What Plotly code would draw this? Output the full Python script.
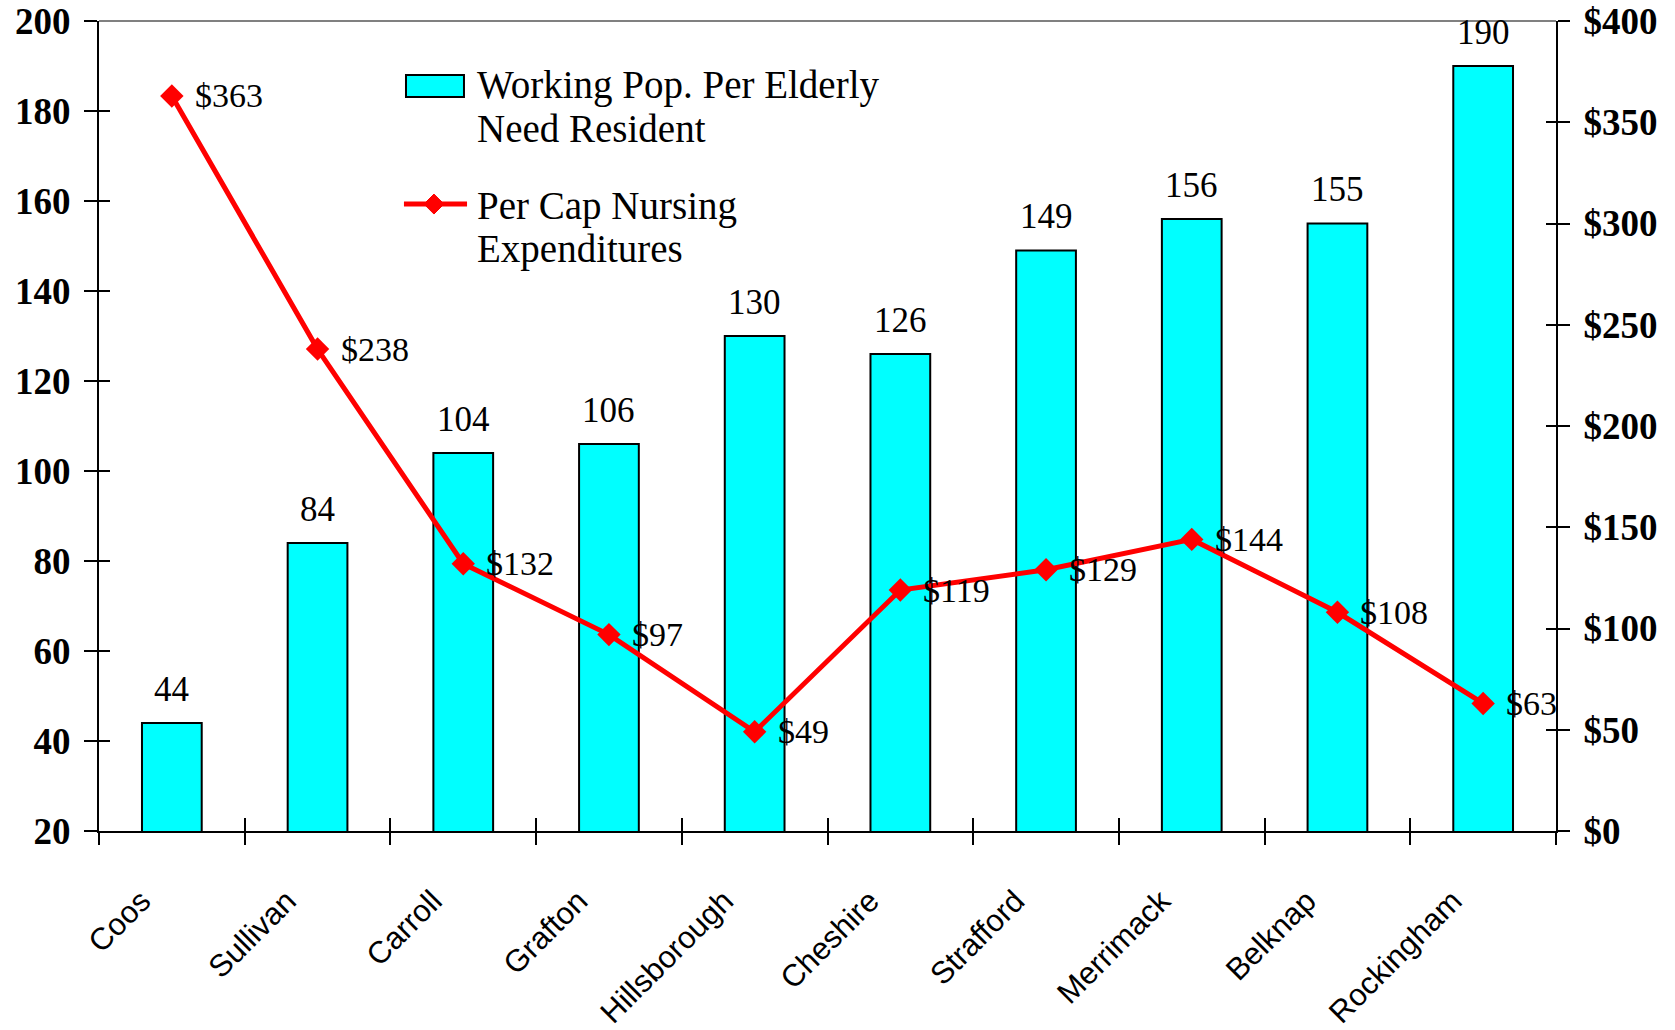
import plotly.graph_objects as go

counties = ['Coos', 'Sullivan', 'Carroll', 'Grafton', 'Hillsborough', 'Cheshire',
            'Strafford', 'Merrimack', 'Belknap', 'Rockingham']
working_pop = [44, 84, 104, 106, 130, 126, 149, 156, 155, 190]
nursing_exp = [363, 238, 132, 97, 49, 119, 129, 144, 108, 63]
left_ticks = [20, 40, 60, 80, 100, 120, 140, 160, 180, 200]
right_ticks = [0, 50, 100, 150, 200, 250, 300, 350, 400]

bar_name = ['Working Pop. Per Elderly', 'Need Resident']
line_name = ['Per Cap Nursing', 'Expenditures']

SERIF = 'Liberation Serif, Times New Roman, serif'
SANS = 'Liberation Sans, Arial, sans-serif'
CYAN = '#00FFFF'
RED = '#FF0000'

fig = go.Figure()

fig.add_trace(go.Bar(x=counties, y=working_pop, width=0.41,
                     marker=dict(color=CYAN, line=dict(color='black', width=2))))
fig.add_trace(go.Scatter(x=counties, y=nursing_exp, yaxis='y2', mode='lines+markers',
                         line=dict(color=RED, width=5),
                         marker=dict(symbol='diamond', size=18, color=RED)))

# invisible helpers so the overlay axes (inner half of the crossing ticks) get drawn
fig.add_trace(go.Scatter(x=counties, y=working_pop, xaxis='x2', yaxis='y3', mode='markers',
                         marker=dict(opacity=0), hoverinfo='skip'))
fig.add_trace(go.Scatter(x=counties, y=nursing_exp, xaxis='x2', yaxis='y4', mode='markers',
                         marker=dict(opacity=0), hoverinfo='skip'))

# value labels
for c, v in zip(counties, working_pop):
    fig.add_annotation(x=c, y=v, text=str(v), showarrow=False, yanchor='middle', yshift=34,
                       font=dict(family=SERIF, size=35, color='black'))
for c, v in zip(counties, nursing_exp):
    fig.add_annotation(x=c, y=v, yref='y2', text=f'${v}', showarrow=False,
                       xanchor='left', yanchor='middle', xshift=21,
                       font=dict(family=SERIF, size=34, color='black'))

# hand-made legend
fig.add_shape(type='rect', xref='paper', yref='paper', x0=0.2107, x1=0.2505, y0=0.9062, y1=0.9333,
              fillcolor=CYAN, line=dict(color='black', width=2))
fig.add_shape(type='line', xref='paper', yref='paper', x0=0.2093, x1=0.2526, y0=0.774, y1=0.774,
              line=dict(color=RED, width=5))
fig.add_shape(type='path', xref='paper', yref='paper', xsizemode='pixel', ysizemode='pixel',
              xanchor=0.2299, yanchor=0.774, path='M0,10 L10,0 L0,-10 L-10,0 Z',
              fillcolor=RED, line=dict(color=RED, width=1))
for txt, yp in zip(bar_name + line_name, [0.921, 0.8667, 0.7716, 0.7185]):
    fig.add_annotation(xref='paper', yref='paper', x=0.258, y=yp, text=txt, showarrow=False,
                       xanchor='left', yanchor='middle',
                       font=dict(family=SERIF, size=39, color='black'))

# gray top border
fig.add_shape(type='line', xref='paper', yref='paper', x0=0, x1=1, y0=1, y1=1,
              line=dict(color='#808080', width=2))

axis_common = dict(showgrid=False, zeroline=False, tickcolor='black', tickwidth=2, automargin=False)

# trailing no-break spaces nudge the rotated labels down-left like the original
x_labels = [c + '\u00a0' * 5 for c in counties]

fig.update_layout(
    width=1675, height=1030,
    margin=dict(l=99, r=119, t=21, b=199),
    plot_bgcolor='white', paper_bgcolor='white',
    showlegend=False,
    xaxis=dict(type='category', categoryorder='array', categoryarray=counties,
               range=[-0.5, 9.5], showline=True, linecolor='black', linewidth=2,
               ticks='outside', ticklen=12, tickson='boundaries', tickangle=-45,
               tickmode='array', tickvals=counties, ticktext=x_labels,
               tickfont=dict(family=SANS, size=31, color='black'), ticklabelstandoff=7,
               **axis_common),
    xaxis2=dict(type='category', categoryorder='array', categoryarray=counties,
                range=[-0.5, 9.5], overlaying='x', anchor='y', side='bottom',
                ticks='inside', ticklen=13, tickson='boundaries', showticklabels=False,
                showline=False, **axis_common),
    yaxis=dict(range=[20, 200], tickmode='array', tickvals=left_ticks,
               showline=True, linecolor='black', linewidth=2,
               ticks='outside', ticklen=13, ticklabelstandoff=6, ticklabeloverflow='allow',
               tickfont=dict(family=SERIF, size=37, color='black', weight='bold'),
               **axis_common),
    yaxis2=dict(range=[0, 400], tickmode='array', tickvals=right_ticks,
                ticktext=[f'${t}' for t in right_ticks],
                overlaying='y', side='right', anchor='x',
                showline=True, linecolor='black', linewidth=2,
                ticks='outside', ticklen=12, ticklabelstandoff=6, ticklabeloverflow='allow',
                tickfont=dict(family=SERIF, size=37, color='black', weight='bold'),
                **axis_common),
    yaxis3=dict(range=[20, 200], tickmode='array', tickvals=left_ticks,
                overlaying='y', side='left', anchor='x2',
                ticks='inside', ticklen=11, showticklabels=False, showline=False,
                **axis_common),
    yaxis4=dict(range=[0, 400], tickmode='array', tickvals=right_ticks,
                overlaying='y', side='right', anchor='x2',
                ticks='inside', ticklen=10, showticklabels=False, showline=False,
                **axis_common),
)

# drop the browser's default body margin so the figure sits at the page corner
fig.write_html('out.html', config={'displayModeBar': False},
               post_script="document.body.style.margin='0';")
